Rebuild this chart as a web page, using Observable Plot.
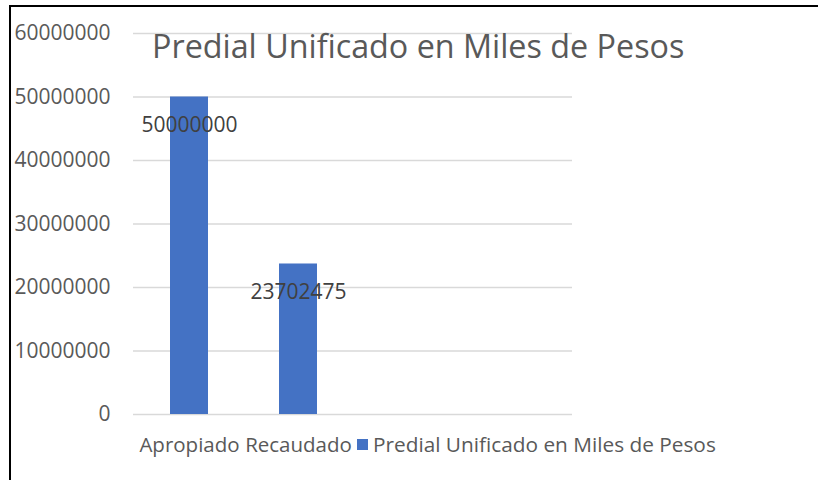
<!DOCTYPE html>
<html>
<head>
<meta charset="utf-8">
<script src="https://cdn.jsdelivr.net/npm/d3@7"></script>
<script src="https://cdn.jsdelivr.net/npm/@observablehq/plot@0.6"></script>
<style>
  html, body { margin: 0; padding: 0; background: #fff; }
  #wrap { position: relative; width: 818px; height: 480px; overflow: hidden; font-family: "Open Sans", sans-serif; }
  #frame { position: absolute; left: 9px; top: 5px; right: -4px; bottom: -4px; border-top: 2px solid #000; border-left: 2px solid #000; }
  #title { position: absolute; left: 152px; top: 29px; line-height: 1; font-size: 32.3px; color: #595959; white-space: nowrap; }
  #legend { position: absolute; left: 357px; top: 434px; line-height: 1; font-size: 20.8px; color: #595959; white-space: nowrap; display: flex; align-items: center; }
  #legend .sw { display: inline-block; width: 11px; height: 11px; background: #4472c4; margin-right: 5px; }
  #chart { position: absolute; left: 0; top: 0; }
</style>
</head>
<body>
<div id="wrap">
  <div id="frame"></div>
  <div id="chart"></div>
  <div id="title">Predial Unificado en Miles de Pesos</div>
  <div id="legend"><span class="sw"></span><span>Predial Unificado en Miles de Pesos</span></div>
</div>
<script>
const categories = ["Apropiado", "Recaudado", "·3", "·4"];
const values = [50000000, 23702475];
const yTicks = [0, 10000000, 20000000, 30000000, 40000000, 50000000, 60000000];

const data = values.map((v, i) => ({cat: categories[i], value: v}));

const chart = Plot.plot({
  width: 818,
  height: 480,
  marginLeft: 133,
  marginRight: 246,
  marginTop: 33,
  marginBottom: 66,
  style: {fontFamily: "'Open Sans', sans-serif", background: "transparent", overflow: "visible"},
  x: {domain: categories, paddingInner: 0.65, paddingOuter: 0.325, axis: null},
  y: {domain: [0, 60000000], axis: null},
  marks: [
    Plot.gridY(yTicks, {stroke: "#d9d9d9", strokeOpacity: 1, strokeWidth: 1.5}),
    Plot.barY(data, {x: "cat", y: "value", fill: "#4472c4"}),
    Plot.axisY(yTicks, {tickSize: 0, tickPadding: 23, tickFormat: d => String(d), fontSize: 21, fill: "#595959", label: null}),
    Plot.axisX(categories.slice(0, 2), {tickSize: 0, tickPadding: 23, fontSize: 20.5, fill: "#595959", label: null}),
    Plot.text(data, {x: "cat", y: "value", text: d => String(d.value), dy: 28, fontSize: 21, fill: "#404040"})
  ]
});
document.getElementById("chart").appendChild(chart);
</script>
</body>
</html>
